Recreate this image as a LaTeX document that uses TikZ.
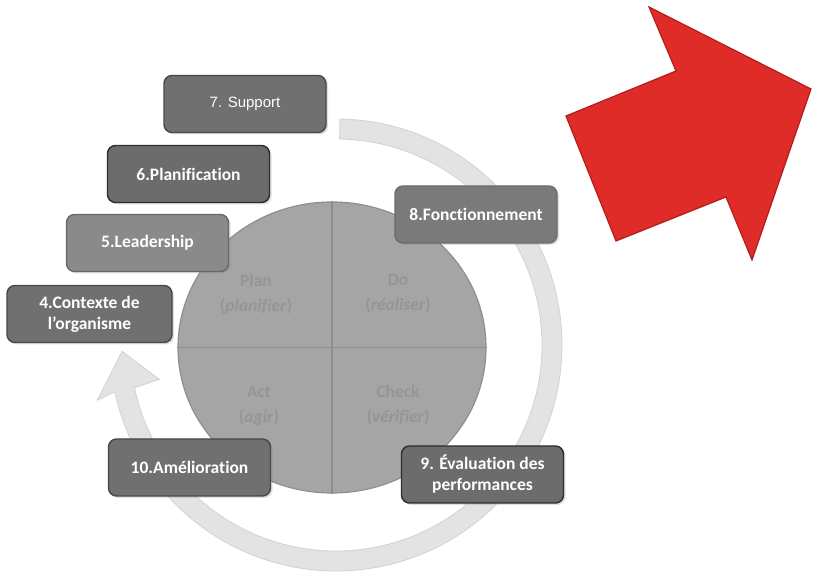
\documentclass[tikz,border=0pt]{standalone}
\usepackage{fontspec}
\setmainfont{Carlito}[Ligatures=CommonOff]
\newfontfamily\arialf{Liberation Sans}
\usetikzlibrary{calc,shadows,shapes.geometric}
\definecolor{ringfill}{HTML}{E3E3E3}
\definecolor{ringline}{HTML}{D2D2D2}
\definecolor{circfill}{HTML}{A5A5A5}
\definecolor{circline}{HTML}{8E8E8E}
\definecolor{circtext}{HTML}{959595}
\definecolor{redfill}{HTML}{E02C28}
\definecolor{redline}{HTML}{B21D1B}
\begin{document}
\begin{tikzpicture}[x=1pt,y=1pt,
  boxbase/.style={rounded corners=8pt, minimum width=162pt, minimum height=57pt,
    text=white, align=center, inner sep=2pt,
    font=\bfseries\fontsize{17.5}{21}\selectfont, line width=1.4pt,
    drop shadow={shadow xshift=2pt, shadow yshift=-2pt, opacity=0.25}},
  darkbox/.style={boxbase, fill={rgb,255:red,108;green,108;blue,108}, draw={rgb,255:red,45;green,45;blue,45}},
  midbox/.style={boxbase, fill={rgb,255:red,112;green,112;blue,112}, draw={rgb,255:red,72;green,72;blue,72}},
  lightbox/.style={boxbase, fill={rgb,255:red,138;green,138;blue,138}, draw={rgb,255:red,105;green,105;blue,105}},
  softbox/.style={boxbase, fill={rgb,255:red,122;green,122;blue,122}, draw={rgb,255:red,108;green,108;blue,108}},
  quad/.style={text=circtext, align=center, font=\bfseries\fontsize{17.5}{25}\selectfont}
]
\useasboundingbox (0,0) rectangle (813,577);

% circular arrow ring
\coordinate (C) at (336,232);
\path[fill=ringfill, draw=ringline, line width=0.8pt]
  ($(C)+(89:226pt)$) arc[start angle=89, end angle=-168, radius=226pt]
  -- ($(C)+(-167:245pt)$) -- ($(C)+(-178.3:214pt)$) -- ($(C)+(-169:180pt)$)
  -- ($(C)+(-168:206pt)$) arc[start angle=-168, end angle=89, radius=206pt] -- cycle;

% PDCA circle
\node[ellipse, minimum width=308pt, minimum height=291pt, inner sep=0pt,
      fill=circfill, draw=circline, line width=1.2pt] (pdca) at (332,229.5) {};
\draw[circline, line width=1.4pt] (pdca.north) -- (pdca.south);
\draw[circline, line width=1.4pt] (pdca.west) -- (pdca.east);

\node[quad] (plan) at (256,283) {Plan\\(\textit{planifier})};
\node[quad] (do) at (398,283) {Do\\(\textit{réaliser})};
\node[quad] (act) at (259,171.5) {Act\\(\textit{agir})};
\node[quad] (check) at (398,171.5) {Check\\(\textit{vérifier})};

% boxes
\node[midbox, font=\arialf\fontsize{15}{18}\selectfont] (b7) at (245,473) {7. Support};
\node[darkbox] (b6) at (188.5,403) {6.Planification};
\node[lightbox] (b5) at (147.5,334) {5.Leadership};
\node[midbox, minimum width=165pt] (b4) at (89.5,263) {4.Contexte de\\l’organisme};
\node[softbox] (b8) at (476,362.5) {8.Fonctionnement};
\node[darkbox] (b9) at (482.5,102.5) {9. Évaluation des\\performances};
\node[midbox] (b10) at (189.5,109.5) {10.Amélioration};

% red arrow
\draw[fill=redfill, draw=redline, line width=1.2pt, line join=miter]
  (566,461) -- (676,506) -- (649,570) -- (811,488) -- (752,317) -- (726,380) -- (616,336) -- cycle;
\end{tikzpicture}
\end{document}
